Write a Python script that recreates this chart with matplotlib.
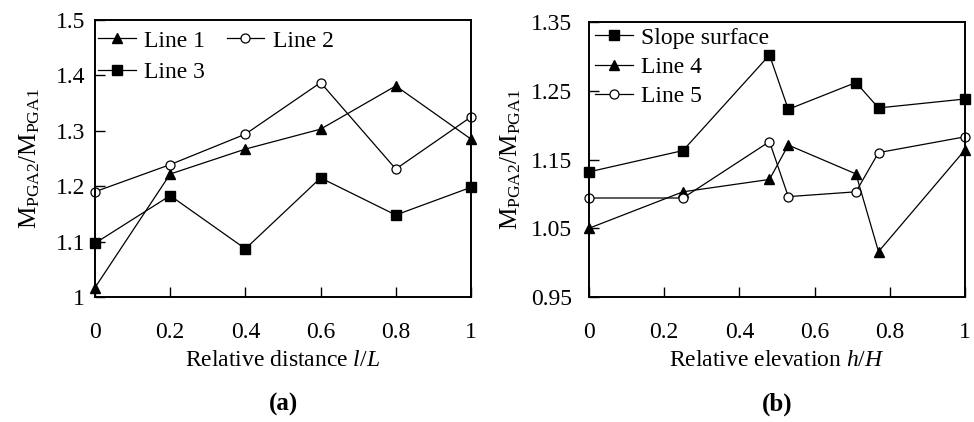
import matplotlib
matplotlib.use("Agg")
import matplotlib.pyplot as plt

plt.rcParams['font.family'] = ['Liberation Serif', 'DejaVu Serif']
plt.rcParams['mathtext.fontset'] = 'custom'
plt.rcParams['mathtext.rm'] = 'Liberation Serif'
plt.rcParams['mathtext.it'] = 'Liberation Serif:italic'
plt.rcParams['mathtext.bf'] = 'Liberation Serif:bold'

# ---- data (a) ----
dist = [0, 0.2, 0.4, 0.6, 0.8, 1.0]
line1 = [1.017, 1.222, 1.267, 1.303, 1.381, 1.285]
line2 = [1.190, 1.239, 1.294, 1.387, 1.231, 1.325]
line3 = [1.097, 1.183, 1.087, 1.215, 1.148, 1.198]
xticks_a = [0, 0.2, 0.4, 0.6, 0.8, 1]
xticklabels_a = ['0', '0.2', '0.4', '0.6', '0.8', '1']
yticks_a = [1.0, 1.1, 1.2, 1.3, 1.4, 1.5]
yticklabels_a = ['1', '1.1', '1.2', '1.3', '1.4', '1.5']

# ---- data (b) ----
elev = [0, 0.25, 0.48, 0.53, 0.71, 0.77, 1.0]
slope = [1.132, 1.163, 1.302, 1.223, 1.262, 1.225, 1.238]
line4 = [1.050, 1.103, 1.121, 1.171, 1.129, 1.016, 1.164]
line5 = [1.094, 1.094, 1.176, 1.096, 1.103, 1.160, 1.183]
xticks_b = [0, 0.2, 0.4, 0.6, 0.8, 1]
xticklabels_b = ['0', '0.2', '0.4', '0.6', '0.8', '1']
yticks_b = [0.95, 1.05, 1.15, 1.25, 1.35]
yticklabels_b = ['0.95', '1.05', '1.15', '1.25', '1.35']

FS = 17
fig = plt.figure(figsize=(9.74, 4.22), dpi=100)
axa = fig.add_axes([95/974, 1-297/422, 376/974, 277/422])
axb = fig.add_axes([589/974, 1-297/422, 376/974, 275/422])

lw = 0.9
ms = 7
kw = dict(color='black', lw=lw, clip_on=False)
h1, = axa.plot(dist, line1, marker='^', ms=ms, mfc='black', mec='black', label='Line 1', **kw)
h2, = axa.plot(dist, line2, marker='o', ms=6.5, mfc='white', mec='black', mew=0.9, label='Line 2', **kw)
h3, = axa.plot(dist, line3, marker='s', ms=ms, mfc='black', mec='black', label='Line 3', **kw)

s1, = axb.plot(elev, slope, marker='s', ms=ms, mfc='black', mec='black', label='Slope surface', **kw)
s2, = axb.plot(elev, line4, marker='^', ms=ms, mfc='black', mec='black', label='Line 4', **kw)
s3, = axb.plot(elev, line5, marker='o', ms=6.5, mfc='white', mec='black', mew=0.9, label='Line 5', **kw)

for ax in (axa, axb):
    ax.set_xlim(0, 1)
    for sp in ax.spines.values():
        sp.set_linewidth(1.4)
    ax.tick_params(direction='in', length=7, width=1.0, labelsize=FS,
                   top=False, right=False)

axa.set_ylim(1.0, 1.5)
axa.set_xticks(xticks_a, xticklabels_a)
axa.set_yticks(yticks_a, yticklabels_a)
axa.tick_params(axis='x', pad=18)
axa.tick_params(axis='y', pad=7)

axb.set_ylim(0.95, 1.35)
axb.set_xticks(xticks_b, xticklabels_b)
axb.set_yticks(yticks_b, yticklabels_b)
axb.tick_params(axis='x', pad=18)
axb.tick_params(axis='y', pad=12)

ylab = r'$\mathrm{M_{PGA2}/M_{PGA1}}$'
axa.set_ylabel(ylab, fontsize=FS + 1, labelpad=10)
axb.set_ylabel(ylab, fontsize=FS + 1, labelpad=6)
axa.set_xlabel(r'Relative distance $\mathit{l/L}$', fontsize=FS, labelpad=5)
axb.set_xlabel(r'Relative elevation $\mathit{h/H}$', fontsize=FS, labelpad=5)

axa.legend(handles=[h1, h3, h2], ncol=2, frameon=False, fontsize=FS,
           loc='upper left', bbox_to_anchor=(-0.029, 1.015),
           handlelength=1.6, handletextpad=0.35, columnspacing=0.9,
           labelspacing=0.42, borderaxespad=0.2)
axb.legend(handles=[s1, s2, s3], ncol=1, frameon=False, fontsize=FS,
           loc='upper left', bbox_to_anchor=(-0.021, 1.033),
           handlelength=1.6, handletextpad=0.35,
           labelspacing=0.33, borderaxespad=0.2)

fig.text((95+471)/2/974, 1-404/422, '(a)', fontsize=FS+1, fontweight='bold',
         ha='center', va='center')
fig.text((589+965)/2/974, 1-404/422, '(b)', fontsize=FS+1, fontweight='bold',
         ha='center', va='center')

fig.savefig('out.png', dpi=100)
